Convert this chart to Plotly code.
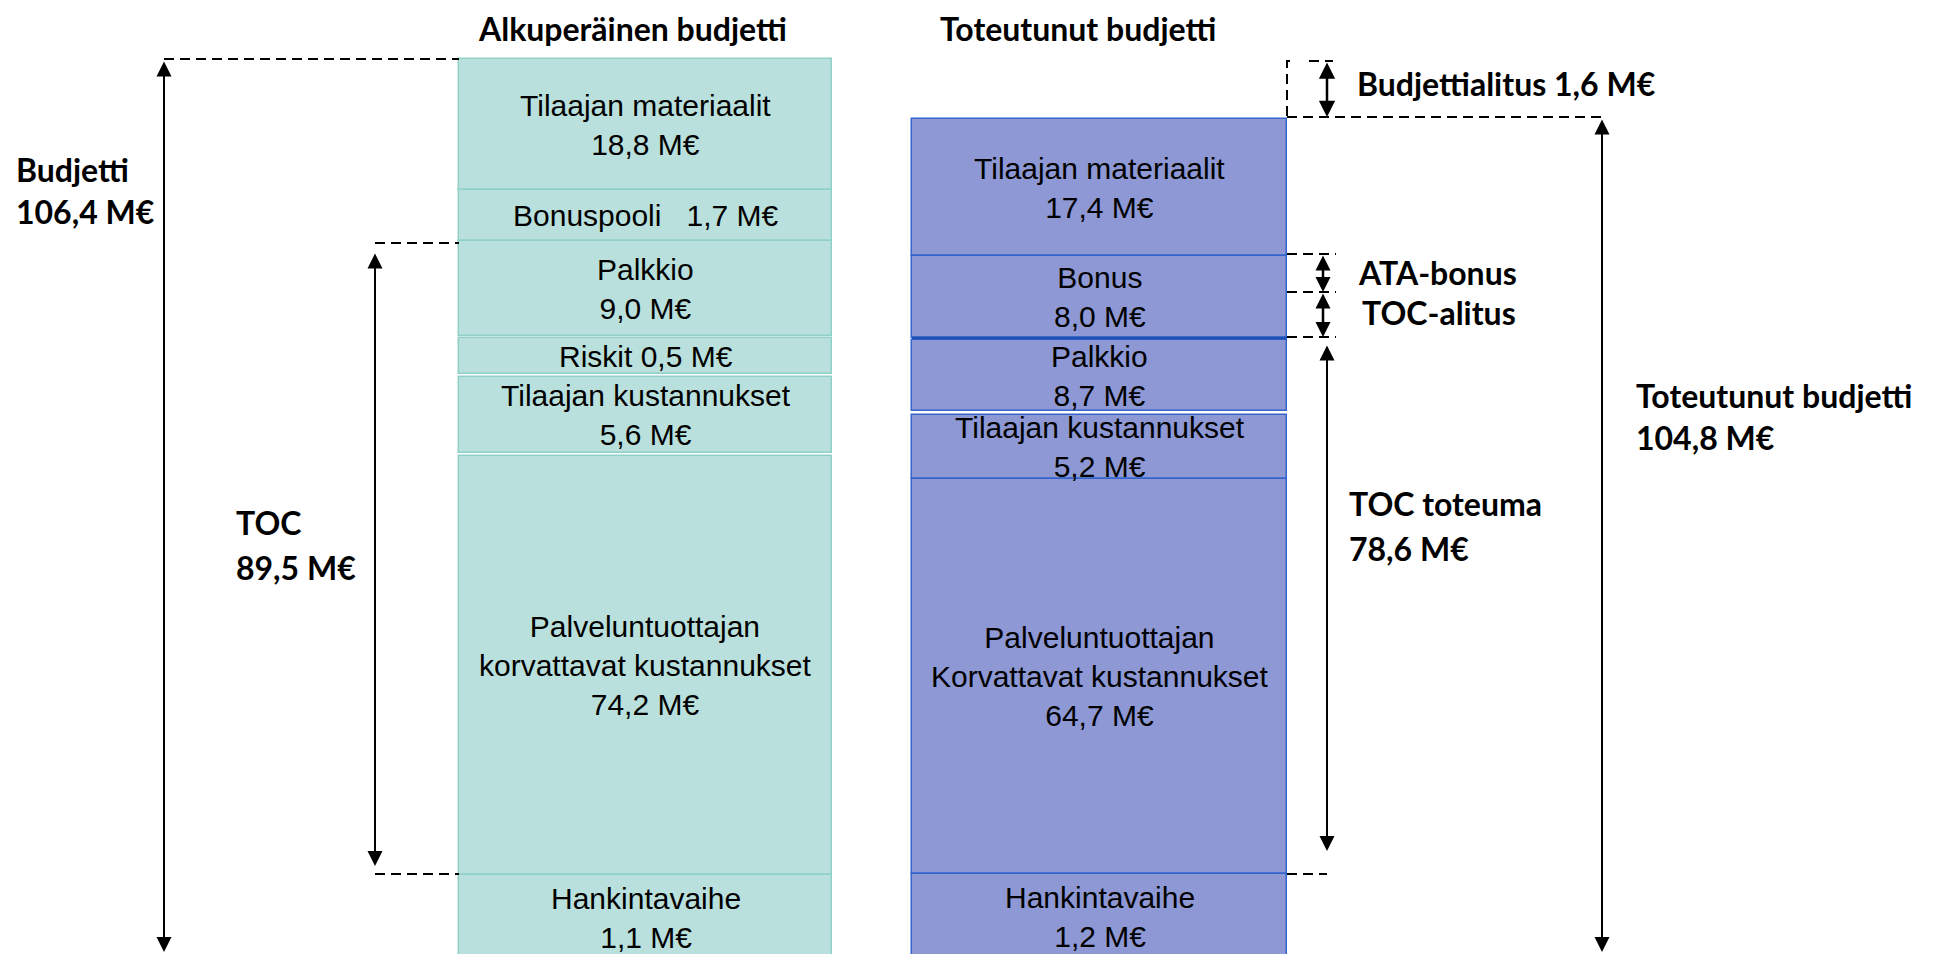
import plotly.graph_objects as go

# ---------------- data ----------------
column_titles = ["Alkuperäinen budjetti", "Toteutunut budjetti"]

orig_items = ["Tilaajan materiaalit", "Bonuspooli", "Palkkio", "Riskit",
              "Tilaajan kustannukset", "Palveluntuottajan<br>korvattavat kustannukset",
              "Hankintavaihe"]
orig_values = [18.8, 1.7, 9.0, 0.5, 5.6, 74.2, 1.1]
orig_inline = [False, True, False, True, False, False, False]

act_items = ["Tilaajan materiaalit", "Bonus", "Palkkio", "Tilaajan kustannukset",
             "Palveluntuottajan<br>Korvattavat kustannukset", "Hankintavaihe"]
act_values = [17.4, 8.0, 8.7, 5.2, 64.7, 1.2]
act_inline = [False, False, False, False, False, False]

budget_total = 106.4
toc_total = 89.5
actual_total = 104.8
toc_actual = 78.6
budget_underrun = 1.6

# ---------------- schematic layout (diagram units) ----------------
W, H = 1936, 954
orig_col = (459, 832)
act_col = (912, 1287)
orig_edges = [(59, 190), (190, 241), (241, 336), (338, 374), (377, 453), (456, 875), (875, 962)]
act_edges = [(119, 256), (256, 338), (340, 411), (415, 479), (479, 874), (874, 962)]

BOX_FONT = "Liberation Sans Narrow, Arial Narrow, Liberation Sans, sans-serif"
SIDE_FONT = "Lato, Carlito, Calibri, sans-serif"


def fmt(v):
    return f"{v:.1f}".replace(".", ",") + " M\u20ac"


def box_label(name, v, inline):
    if inline:
        return name + ("\u00a0\u00a0\u00a0" if name == "Bonuspooli" else " ") + fmt(v)
    return name + "<br>" + fmt(v)


fig = go.Figure()

# boxes as bars
for col, edges, color, lcol in [
    (orig_col, orig_edges, "#b9e0dc", "#8fd1c9"),
    (act_col, act_edges, "#8d98d4", "#3565cc"),
]:
    center = (col[0] + col[1]) / 2
    fig.add_trace(go.Bar(
        x=[center] * len(edges),
        base=[e[0] for e in edges],
        y=[e[1] - e[0] for e in edges],
        width=[col[1] - col[0]] * len(edges),
        marker=dict(color=color, line=dict(color=lcol, width=1.5)),
        hoverinfo="skip", showlegend=False,
    ))

# bonus box bottom emphasis line
fig.add_trace(go.Scatter(x=[act_col[0], act_col[1]], y=[act_edges[1][1]] * 2, mode="lines",
                         line=dict(color="#1f4fb8", width=3), hoverinfo="skip", showlegend=False))

# box labels
for col, edges, items, vals, inl in [
    (orig_col, orig_edges, orig_items, orig_values, orig_inline),
    (act_col, act_edges, act_items, act_values, act_inline),
]:
    cx = (col[0] + col[1]) / 2
    for (t, b), name, v, il in zip(edges, items, vals, inl):
        cy = (t + b) / 2
        if b > H:
            cy = (t + b) / 2 - 1
        fig.add_annotation(x=cx, y=cy, xref="x", yref="y", text=box_label(name, v, il),
                           showarrow=False, xanchor="center", yanchor="middle",
                           font=dict(family=BOX_FONT, size=30, color="black"))

# column titles
for title, xc in zip(column_titles, [632, 1078]):
    fig.add_annotation(x=xc, y=28, xref="x", yref="y", text=f"<b>{title}</b>", showarrow=False,
                       xanchor="center", yanchor="middle",
                       font=dict(family=SIDE_FONT, size=32, color="black"))

# dashed helper lines
DASH = dict(color="black", width=2, dash="10px,6px")


def dline(xs, ys):
    fig.add_trace(go.Scatter(x=xs, y=ys, mode="lines", line=DASH, hoverinfo="skip", showlegend=False))


budget_x, toc_x = 164, 375
act_arrow_x, toc_act_x, small_x = 1602, 1327, 1323

dline([budget_x, orig_col[0]], [orig_edges[0][0]] * 2)
dline([toc_x, orig_col[0]], [orig_edges[2][0] + 2] * 2)
dline([toc_x, orig_col[0]], [orig_edges[5][1] - 1] * 2)

# budget underrun dashed box
top_orig = 61
dline([act_col[1] + 3, act_col[1], act_col[1]], [top_orig, top_orig, act_edges[0][0] - 2])
dline([act_col[1] + 22, toc_act_x + 6], [top_orig] * 2)
dline([act_col[1], act_arrow_x], [act_edges[0][0] - 2] * 2)
# ATA / TOC-alitus
ata_lines = [254, 292, 337]
for yy in ata_lines:
    dline([act_col[1], 1336], [yy] * 2)
dline([act_col[1], toc_act_x], [act_edges[4][1]] * 2)


# arrows
def arrow(x, y_from, y_to, both=True, size=1.5, width=2):
    fig.add_annotation(x=x, y=y_to, ax=x, ay=y_from, xref="x", yref="y", axref="x", ayref="y",
                       text="", showarrow=True, arrowhead=2, arrowsize=size, arrowwidth=width,
                       arrowcolor="black", arrowside="end+start" if both else "end",
                       startarrowhead=2, startarrowsize=size, standoff=0, startstandoff=0)


arrow(budget_x, 60, 952)
arrow(toc_x, 252, 866)
arrow(toc_act_x, 61, 117, size=1.3, width=2.5)
arrow(act_arrow_x, 118, 952)
arrow(small_x, 254, 292, size=1.2, width=2.5)
arrow(small_x, 292, 337, size=1.2, width=2.5)
arrow(toc_act_x, 344, 851)


# side texts
def side(x, y, text):
    fig.add_annotation(x=x, y=y, xref="x", yref="y", text=f"<b>{text}</b>", showarrow=False,
                       xanchor="left", yanchor="middle",
                       font=dict(family=SIDE_FONT, size=32, color="black"))


side(14, 169, "Budjetti")
side(14, 211, fmt(budget_total))
side(234, 522, "TOC")
side(234, 567, fmt(toc_total))
side(1355, 83, "Budjettialitus " + fmt(budget_underrun))
side(1356, 272, "ATA-bonus")
side(1360, 312, "TOC-alitus")
side(1634, 395, "Toteutunut budjetti")
side(1634, 437, fmt(actual_total))
side(1347, 503, "TOC toteuma")
side(1347, 548, fmt(toc_actual))

fig.update_layout(
    width=W, height=H,
    margin=dict(l=0, r=0, t=0, b=0),
    paper_bgcolor="white", plot_bgcolor="white",
    barmode="overlay", bargap=0,
    xaxis=dict(range=[0, W], visible=False, fixedrange=True),
    yaxis=dict(range=[H, 0], visible=False, fixedrange=True),
    showlegend=False,
)

fig.write_html("out.html", config={"displayModeBar": False},
               post_script="document.body.style.margin='0';")
